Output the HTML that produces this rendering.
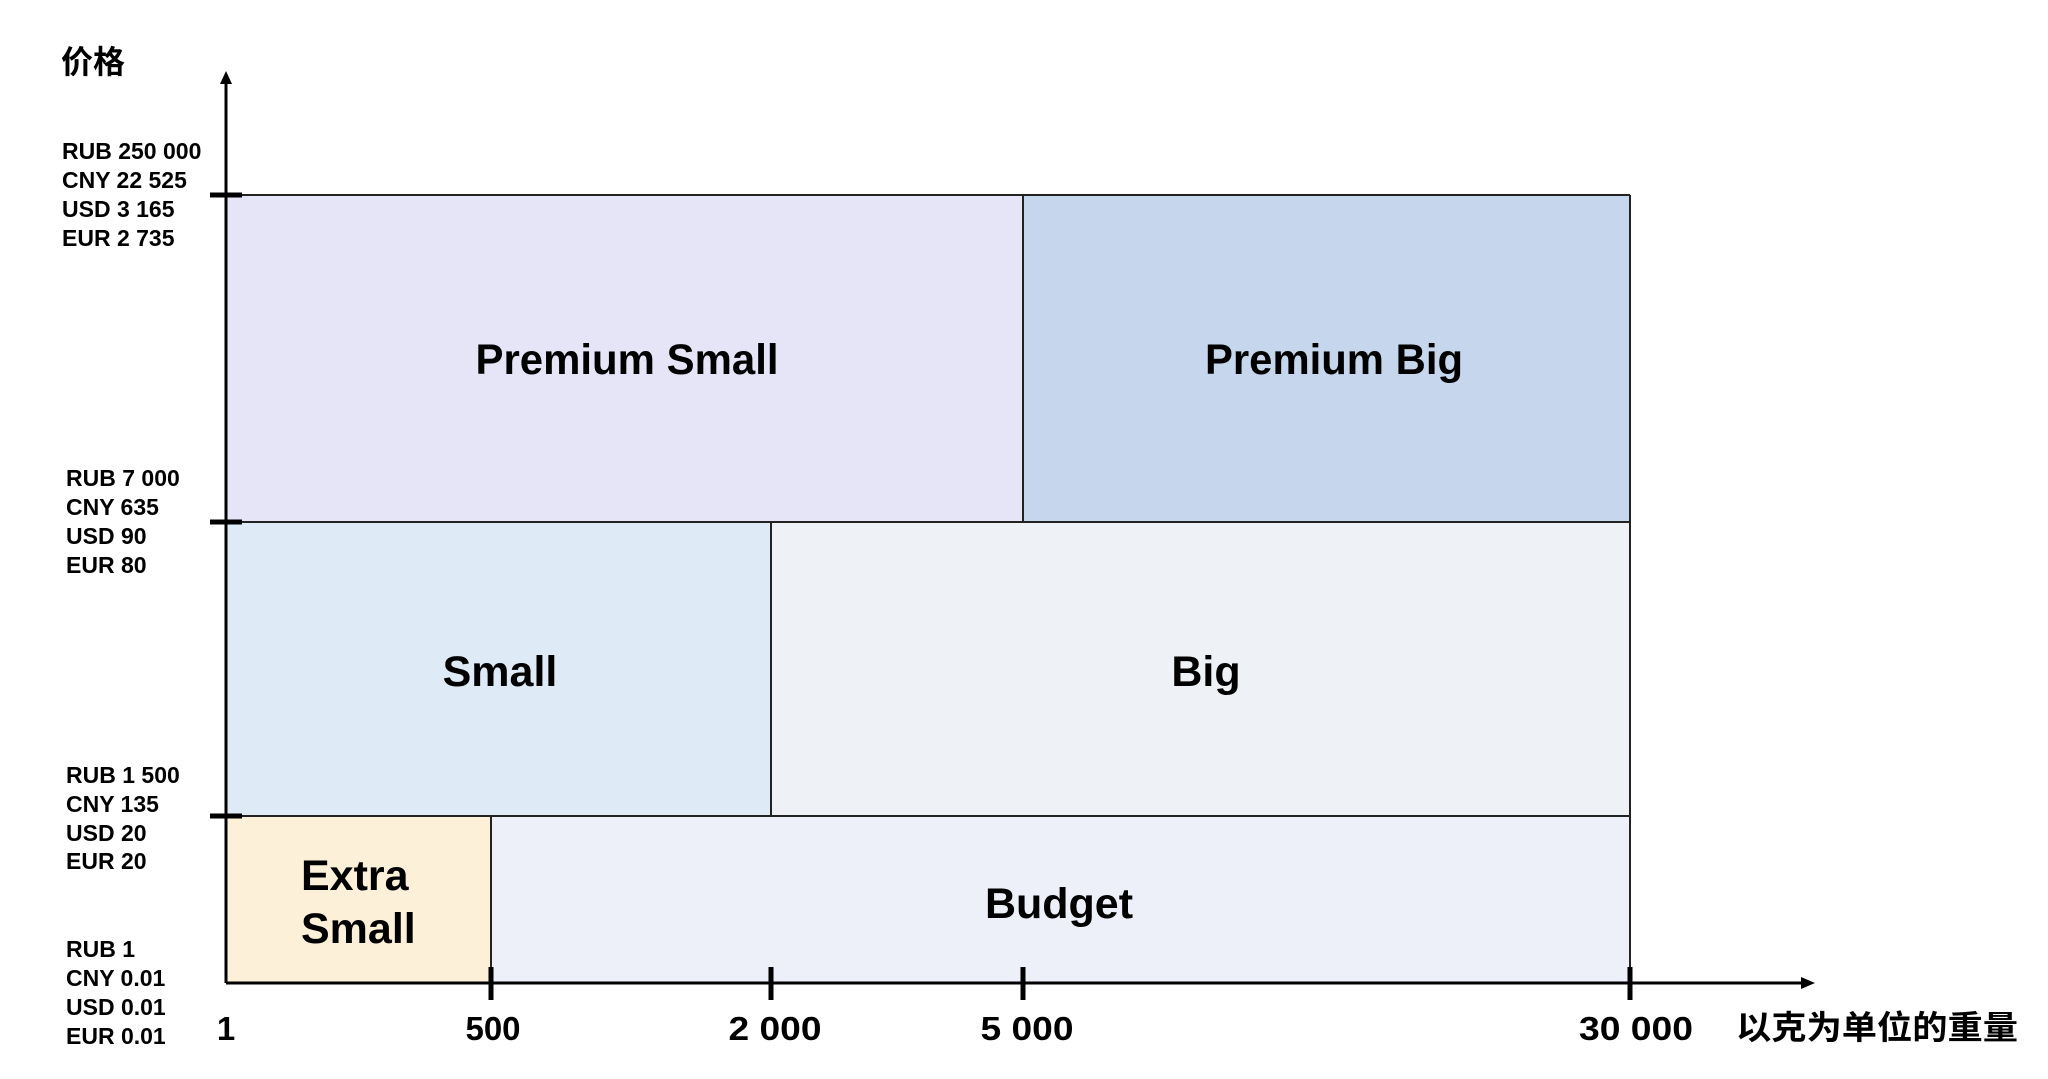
<!DOCTYPE html>
<html><head><meta charset="utf-8"><style>
html,body{margin:0;padding:0;background:#fff;}
svg{display:block;}
text{font-family:"Liberation Sans","Noto Sans CJK SC",sans-serif;font-weight:bold;fill:#000;}
</style></head><body>
<svg width="2048" height="1079" viewBox="0 0 2048 1079" xmlns="http://www.w3.org/2000/svg">
<rect x="226" y="195" width="797" height="327" fill="#e5e5f7"/>
<rect x="1023" y="195" width="607" height="327" fill="#c6d6ec"/>
<rect x="226" y="522" width="545" height="294" fill="#deeaf6"/>
<rect x="771" y="522" width="859" height="294" fill="#eef2f6"/>
<rect x="226" y="816" width="265" height="167" fill="#fdf0d8"/>
<rect x="491" y="816" width="1139" height="167" fill="#edf0f9"/>
<g stroke="#222" stroke-width="2" fill="none">
<line x1="226" y1="195" x2="1630" y2="195"/>
<line x1="226" y1="522" x2="1630" y2="522"/>
<line x1="226" y1="816" x2="1630" y2="816"/>
<line x1="1630" y1="195" x2="1630" y2="983"/>
<line x1="1023" y1="195" x2="1023" y2="522"/>
<line x1="771" y1="522" x2="771" y2="816"/>
<line x1="491" y1="816" x2="491" y2="983"/>
</g>
<g stroke="#000" stroke-width="3">
<line x1="226" y1="983" x2="226" y2="82"/>
<line x1="226" y1="983" x2="1804" y2="983"/>
</g>
<polygon points="226,71 220,84 232,84" fill="#000"/>
<polygon points="1815,983 1801,977 1801,989" fill="#000"/>
<g stroke="#000" stroke-width="5">
<line x1="210" y1="195" x2="242" y2="195"/>
<line x1="210" y1="522" x2="242" y2="522"/>
<line x1="210" y1="816" x2="242" y2="816"/>
<line x1="491" y1="967" x2="491" y2="1000"/>
<line x1="771" y1="967" x2="771" y2="1000"/>
<line x1="1023" y1="967" x2="1023" y2="1000"/>
<line x1="1630" y1="967" x2="1630" y2="1000"/>
</g>
<text x="61" y="73" font-size="32">价格</text>
<g font-size="23">
<text x="62" y="159">RUB 250 000</text>
<text x="62" y="188">CNY 22 525</text>
<text x="62" y="217">USD 3 165</text>
<text x="62" y="246">EUR 2 735</text>
<text x="66" y="486">RUB 7 000</text>
<text x="66" y="515">CNY 635</text>
<text x="66" y="544">USD 90</text>
<text x="66" y="573">EUR 80</text>
<text x="66" y="783">RUB 1 500</text>
<text x="66" y="812">CNY 135</text>
<text x="66" y="841">USD 20</text>
<text x="66" y="869">EUR 20</text>
<text x="66" y="957">RUB 1</text>
<text x="66" y="986">CNY 0.01</text>
<text x="66" y="1015">USD 0.01</text>
<text x="66" y="1044">EUR 0.01</text>
</g>
<g font-size="33" text-anchor="middle">
<text x="226" y="1040">1</text>
<text x="493" y="1040">500</text>
<text x="775" y="1040" textLength="93" lengthAdjust="spacingAndGlyphs">2 000</text>
<text x="1027" y="1040" textLength="93" lengthAdjust="spacingAndGlyphs">5 000</text>
<text x="1636" y="1040" textLength="114" lengthAdjust="spacingAndGlyphs">30 000</text>
</g>
<text x="1736" y="1039" font-size="33" textLength="282" lengthAdjust="spacingAndGlyphs">以克为单位的重量</text>
<g font-size="43" text-anchor="middle">
<text x="627" y="374" textLength="303" lengthAdjust="spacingAndGlyphs">Premium Small</text>
<text x="1334" y="374" textLength="258" lengthAdjust="spacingAndGlyphs">Premium Big</text>
<text x="500" y="686">Small</text>
<text x="1206" y="686">Big</text>
<text x="1059" y="918">Budget</text>
</g>
<g font-size="43">
<text x="301" y="890">Extra</text>
<text x="301" y="943">Small</text>
</g>
</svg>
</body></html>
